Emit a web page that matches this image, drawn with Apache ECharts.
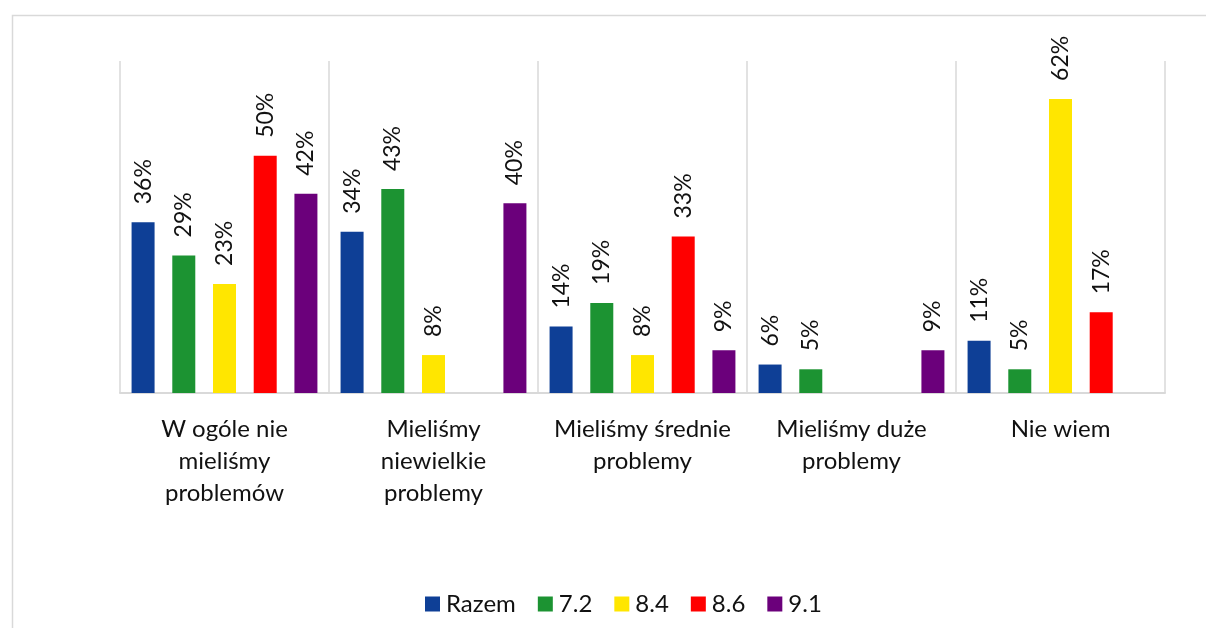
<!DOCTYPE html>
<html>
<head>
<meta charset="utf-8">
<script src="https://cdn.jsdelivr.net/npm/echarts@6/dist/echarts.min.js"></script>
<style>
  html, body { margin: 0; padding: 0; background: #fff; }
  #chart { width: 1206px; height: 628px; }
</style>
</head>
<body>
<div id="chart"></div>
<script>
// Answer categories (x axis)
const categories = [
  'W ogóle nie\nmieliśmy\nproblemów',
  'Mieliśmy\nniewielkie\nproblemy',
  'Mieliśmy średnie\nproblemy',
  'Mieliśmy duże\nproblemy',
  'Nie wiem'
];

// Series names
const seriesNames = ['Razem', '7.2', '8.4', '8.6', '9.1'];

// Percent shares per group (null = no answer in that group)
const razem = [36, 34, 14, 6, 11];
const s72   = [29, 43, 19, 5, 5];
const s84   = [23, 8, 8, null, 62];
const s86   = [50, null, 33, null, 17];
const s91   = [42, 40, 9, 9, null];

const colors = ['#0E3F96', '#1C9332', '#FFE600', '#FF0000', '#6B007B'];
const values = [razem, s72, s84, s86, s91];

const FONT = 'Lato, "Open Sans", sans-serif';
const TEXT = '#111111';

const chart = echarts.init(document.getElementById('chart'), null, { renderer: 'canvas' });

chart.setOption({
  backgroundColor: '#ffffff',
  animation: false,
  color: colors,
  graphic: [{
    type: 'rect',
    left: 10, top: 13,
    shape: { width: 1220, height: 640 },
    style: { fill: 'none', stroke: '#d9d9d9', lineWidth: 1.5 },
    silent: true,
    z: -1
  }],
  grid: { left: 120, right: 41, top: 61, bottom: 235, containLabel: false },
  legend: {
    bottom: 12,
    left: 425,
    padding: 0,
    itemWidth: 15,
    itemHeight: 15,
    itemGap: 22,
    icon: 'rect',
    textStyle: { fontFamily: FONT, fontSize: 24, color: TEXT, padding: [0, 0, 0, 1] },
    data: seriesNames
  },
  xAxis: {
    type: 'category',
    data: categories,
    axisLine: { show: true, lineStyle: { color: '#d9d9d9', width: 2 } },
    axisTick: { show: false },
    splitLine: { show: true, lineStyle: { color: '#d9d9d9', width: 1.5 } },
    axisLabel: {
      interval: 0,
      margin: 20,
      fontFamily: FONT,
      fontSize: 24,
      lineHeight: 32,
      color: TEXT
    }
  },
  yAxis: {
    type: 'value',
    min: 0,
    max: 70,
    show: false,
    splitLine: { show: false }
  },
  series: seriesNames.map((name, i) => ({
    name: name,
    type: 'bar',
    data: values[i],
    barWidth: 23,
    barGap: '77%',
    itemStyle: { color: colors[i] },
    label: {
      show: true,
      position: 'top',
      rotate: 90,
      align: 'left',
      verticalAlign: 'middle',
      distance: 18,
      fontFamily: FONT,
      fontSize: 23,
      color: TEXT,
      formatter: p => p.value + '%'
    }
  }))
});
</script>
</body>
</html>
